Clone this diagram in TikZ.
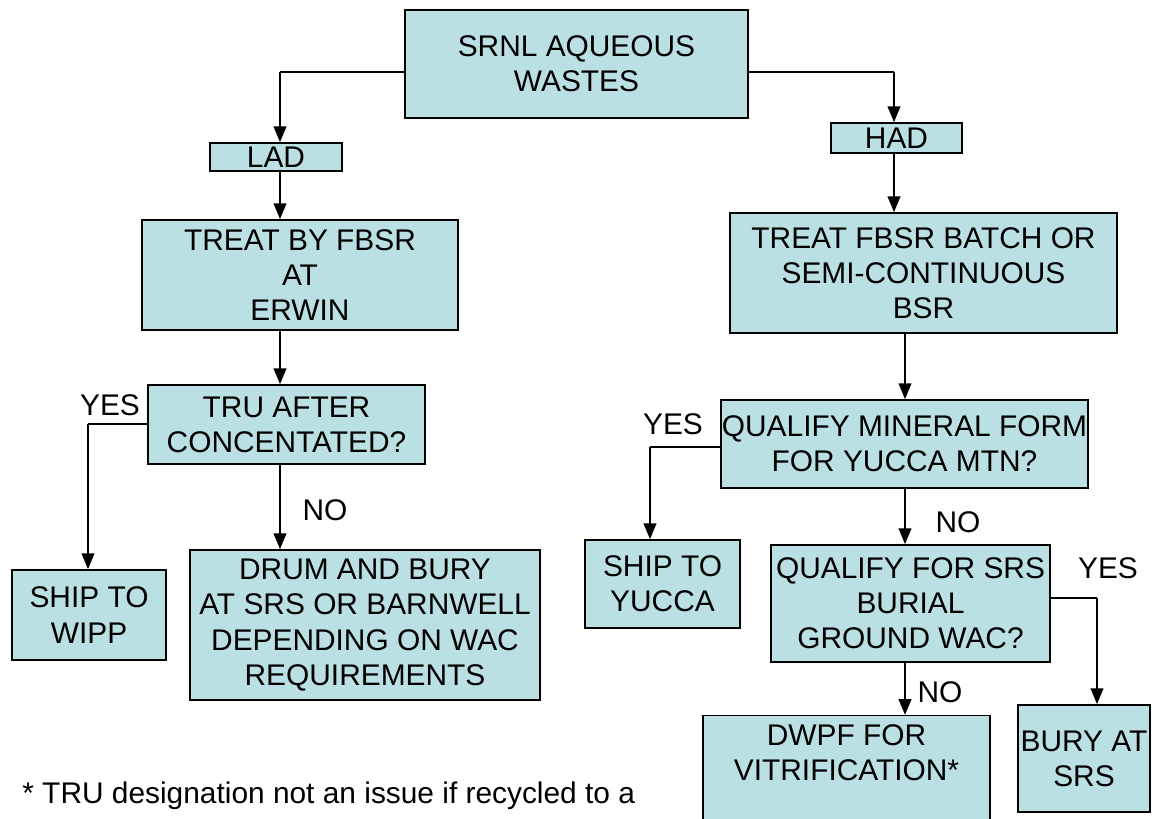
\documentclass[tikz,border=0pt]{standalone}
\usepackage{fontspec}
\setmainfont{Liberation Sans}
\usetikzlibrary{arrows.meta}
\definecolor{box-blue}{HTML}{BBE0E3}

\begin{document}
\begin{tikzpicture}[
    wastebox/.style={
        draw=black, line width=0.8pt, fill=box-blue,
        align=center, inner sep=0pt,
        font=\fontsize{17}{20}\selectfont,
    },
    answer/.style={ font=\fontsize{17}{20}\selectfont, inner sep=0pt, },
    flow/.style={ line width=1.5pt, -{Triangle[length=9pt,width=7pt]}, },
    link/.style={ line width=0.6pt, },
]
\useasboundingbox (0,0) rectangle (23.12,-16.36);

% left branch
\node[wastebox, minimum width=6.86cm, minimum height=2.16cm] (srnl) at (11.53,-1.28) {SRNL AQUEOUS\\WASTES};
\node[wastebox, minimum width=2.64cm, minimum height=0.56cm] (lad) at (5.52,-3.14) {LAD};
\node[wastebox, minimum width=6.32cm, minimum height=2.2cm] (treatL) at (6.0,-5.5) {TREAT BY FBSR\\AT\\ERWIN};
\node[wastebox, minimum width=5.54cm, minimum height=1.58cm] (tru) at (5.73,-8.49) {TRU AFTER\\CONCENTATED?};
\node[wastebox, minimum width=3.08cm, minimum height=1.8cm] (wipp) at (1.78,-12.3) {SHIP TO\\WIPP};
\node[wastebox, minimum width=7.0cm, minimum height=3.0cm] (drum) at (7.3,-12.5) {DRUM AND BURY\\AT SRS OR BARNWELL\\DEPENDING ON WAC\\REQUIREMENTS};

% right branch
\node[wastebox, minimum width=2.62cm, minimum height=0.6cm] (had) at (17.93,-2.76) {HAD};
\node[wastebox, minimum width=7.74cm, minimum height=2.4cm] (treatR) at (18.47,-5.46) {TREAT FBSR BATCH OR\\SEMI-CONTINUOUS\\BSR};
\node[wastebox, minimum width=7.34cm, minimum height=1.76cm] (qmin) at (18.09,-8.88) {QUALIFY MINERAL FORM\\FOR YUCCA MTN?};
\node[wastebox, minimum width=3.1cm, minimum height=1.76cm] (yucca) at (13.25,-11.68) {SHIP TO\\YUCCA};
\node[wastebox, minimum width=5.58cm, minimum height=2.34cm] (qsrs) at (18.21,-12.07) {QUALIFY FOR SRS\\BURIAL\\GROUND WAC?};
\node[wastebox, minimum width=5.74cm, inner ysep=5pt, text depth=2.2cm, anchor=north] (dwpf) at (16.93,-14.3) {DWPF FOR\\VITRIFICATION*};
\node[wastebox, minimum width=2.64cm, minimum height=2.14cm] (bury) at (21.68,-15.17) {BURY AT\\SRS};

\node[answer, anchor=base west] (note) at (0.44,-16.06) {* TRU designation not an issue if recycled to a};

\coordinate (ladTurn) at (5.6,-1.44);
\coordinate (hadTurn) at (17.88,-1.44);
\coordinate (colL) at (5.6,0);
\coordinate (colR) at (18.1,0);
\coordinate (wippTurn) at (1.76,-8.48);
\coordinate (yuccaTurn) at (13.0,-8.94);
\coordinate (buryTurn) at (21.94,-11.96);

\draw[link] (srnl.west |- ladTurn) -- (ladTurn);
\draw[flow] (ladTurn) -- (ladTurn |- lad.north);
\draw[link] (srnl.east |- hadTurn) -- (hadTurn);
\draw[flow] (hadTurn) -- (hadTurn |- had.north);

\draw[flow] (lad.south -| colL) -- (treatL.north -| colL);
\draw[flow] (treatL.south -| colL) -- (tru.north -| colL);
\draw[flow] (tru.south -| colL) -- (drum.north -| colL);
\draw[link] (tru.west |- wippTurn) -- (wippTurn);
\draw[flow] (wippTurn) -- (wippTurn |- wipp.north);

\draw[flow] (had.south -| hadTurn) -- (treatR.north -| hadTurn);
\draw[flow] (treatR.south -| colR) -- (qmin.north -| colR);
\draw[flow] (qmin.south -| colR) -- (qsrs.north -| colR);
\draw[flow] (qsrs.south -| colR) -- (dwpf.north -| colR);
\draw[link] (qmin.west |- yuccaTurn) -- (yuccaTurn);
\draw[flow] (yuccaTurn) -- (yuccaTurn |- yucca.north);
\draw[link] (qsrs.east |- buryTurn) -- (buryTurn);
\draw[flow] (buryTurn) -- (buryTurn |- bury.north);

% answers
\node[answer] (yesL) at (2.2,-8.1) {YES};
\node[answer] (noL) at (6.5,-10.2) {NO};
\node[answer] (yesM) at (13.46,-8.48) {YES};
\node[answer] (noM) at (19.16,-10.44) {NO};
\node[answer] (yesR) at (22.16,-11.36) {YES};
\node[answer] (noR) at (18.8,-13.84) {NO};
\end{tikzpicture}
\end{document}
